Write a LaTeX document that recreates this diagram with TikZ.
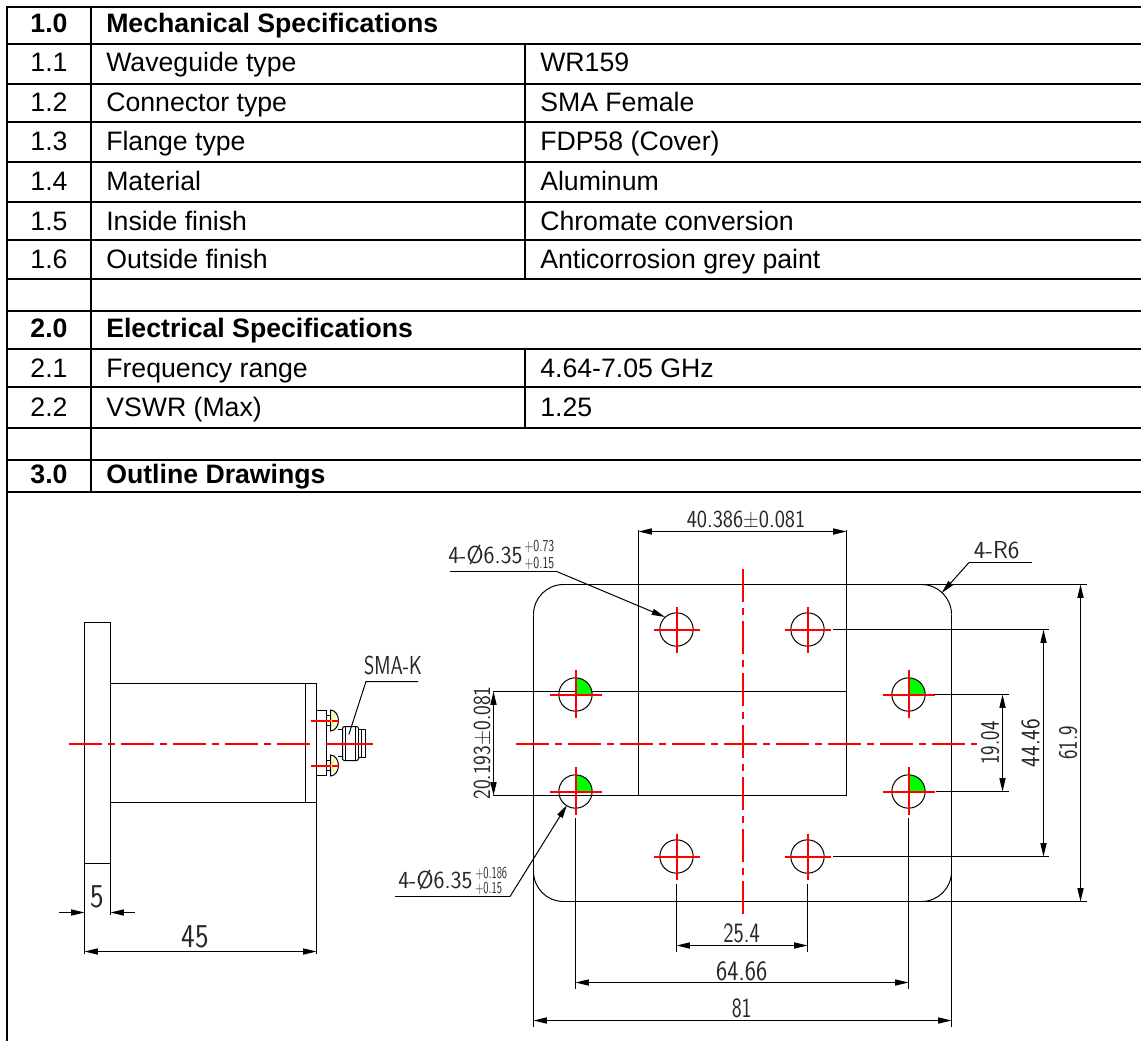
\documentclass[tikz,border=0pt]{standalone}
\usepackage{fontspec}
\usepackage{graphicx}
\setmainfont{Liberation Sans}
\usetikzlibrary{arrows.meta}
\newcommand{\cadt}[3]{\scalebox{#2}[1]{\fontsize{#1}{#1}\selectfont\sffamily #3}}
\definecolor{cadred}{RGB}{255,0,0}
\tikzset{
  x=0.75pt,y=-0.75pt,
  rule/.style={line width=1.5pt,black},
  cell/.style={anchor=base west,inner sep=0pt,font=\fontsize{20}{20}\selectfont},
  cellc/.style={anchor=base,inner sep=0pt,font=\fontsize{20}{20}\selectfont},
  head/.style={anchor=base west,inner sep=0pt,font=\fontsize{20}{20}\selectfont\bfseries},
  headc/.style={anchor=base,inner sep=0pt,font=\fontsize{20}{20}\selectfont\bfseries},
  ink/.style={line width=0.75pt,black},
  red line/.style={line width=1.5pt,cadred},
  center line/.style={line width=1.5pt,cadred,dash pattern=on 25pt off 4.5pt on 5pt off 4.5pt},
  dimen/.style={line width=0.75pt,black,{Triangle[length=10pt,width=4.6pt]}-{Triangle[length=10pt,width=4.6pt]}},
  lead/.style={line width=0.75pt,black,-{Triangle[length=10pt,width=4.6pt]}},
  cad/.style={inner sep=0pt,text=black!85},
  hole/.style={line width=0.75pt,black},
}
\begin{document}
\begin{tikzpicture}
\useasboundingbox (0,0) rectangle (1141,1041);
% table rules
\foreach \yy in {7,44,84,122,162,202,240,279,311,349,387,428,460,492}
  \draw[rule] (6.7,\yy) -- (1141,\yy);
\draw[rule] (6.7,6) -- (6.7,1041);
\draw[rule] (91,6) -- (91,492);
\draw[rule] (525,44) -- (525,279);
\draw[rule] (525,349) -- (525,428);
% table text
\node[headc] (n10) at (49,33) {1.0};
\node[head] (t10) at (106,33) {Mechanical Specifications};
\node[cellc] (n11) at (49,72) {1.1};
\node[cell] (t11) at (106,72) {Waveguide type};
\node[cell] (v11) at (540,72) {WR159};
\node[cellc] (n12) at (49,112) {1.2};
\node[cell] (t12) at (106,112) {Connector type};
\node[cell] (v12) at (540,112) {SMA Female};
\node[cellc] (n13) at (49,151) {1.3};
\node[cell] (t13) at (106,151) {Flange type};
\node[cell] (v13) at (540,151) {FDP58 (Cover)};
\node[cellc] (n14) at (49,191) {1.4};
\node[cell] (t14) at (106,191) {Material};
\node[cell] (v14) at (540,191) {Aluminum};
\node[cellc] (n15) at (49,230) {1.5};
\node[cell] (t15) at (106,230) {Inside finish};
\node[cell] (v15) at (540,230) {Chromate conversion};
\node[cellc] (n16) at (49,268) {1.6};
\node[cell] (t16) at (106,268) {Outside finish};
\node[cell] (v16) at (540,268) {Anticorrosion grey paint};
\node[headc] (n20) at (49,337) {2.0};
\node[head] (t20) at (106,337) {Electrical Specifications};
\node[cellc] (n21) at (49,377) {2.1};
\node[cell] (t21) at (106,377) {Frequency range};
\node[cell] (v21) at (540,377) {4.64-7.05 GHz};
\node[cellc] (n22) at (49,416) {2.2};
\node[cell] (t22) at (106,416) {VSWR (Max)};
\node[cell] (v22) at (540,416) {1.25};
\node[headc] (n30) at (49,483) {3.0};
\node[head] (t30) at (106,483) {Outline Drawings};
% side view
\draw[ink] (84.5,954) -- (84.5,622.5) -- (110.5,622.5) -- (110.5,915);
\draw[ink] (84.5,863.5) -- (110.5,863.5);
\draw[ink] (110.5,683.5) -- (316.5,683.5) -- (316.5,954);
\draw[ink] (110.5,802.5) -- (316.5,802.5);
\draw[ink] (305.5,683.5) -- (305.5,802.5);
\draw[center line] (69,743.5) -- (373,743.5);
% connector
\draw[ink,fill=white] (316.5,710.5) rectangle (326.5,775.5);
\foreach \yy in {720.5,765.5} {
  \draw[ink,fill=white] (326.5,\yy-5) rectangle (330.5,\yy+5);
  \draw[ink,fill=white] (330.5,\yy-10.5) .. controls (336,\yy-10.5) and (338.5,\yy-4) .. (338.5,\yy) .. controls (338.5,\yy+4) and (336,\yy+10.5) .. (330.5,\yy+10.5) -- cycle;
  \draw[red line] (310.5,\yy) -- (338.5,\yy);
  \draw[line width=0.75pt,yellow] (335,\yy-7) -- (331,\yy) -- (335,\yy+7);
}
\draw[ink] (338,729.5) -- (342,729.5) (338,756.5) -- (342,756.5);
\draw[ink,fill=white,rounded corners=1.5pt] (342.5,726.5) rectangle (358.5,760.5);
\draw[ink] (345.5,726.5) -- (345.5,760.5) (355.5,726.5) -- (355.5,760.5);
\draw[ink,fill=white] (358.5,729.5) rectangle (365.5,757.5);
\draw[ink] (361.5,729.5) -- (361.5,757.5);
\draw[center line,dash pattern=on 9pt off 3pt on 40pt] (326,743.5) -- (373,743.5);
\fill[magenta] (349,734) circle (0.7);
\draw[ink] (349,734) -- (366,681.5) -- (418,681.5);
\node[cad] (smak) at (393,665) {\cadt{19.5}{.76}{SMA-K}};
% side dims
\draw[dimen] (84.5,951.5) -- (316.5,951.5);
\node[cad] (d45) at (195,937) {\cadt{25}{.87}{45}};
\draw[lead] (59,912.5) -- (84.5,912.5);
\draw[lead] (135,912.5) -- (110.5,912.5);
\node[cad] (d5) at (97,897) {\cadt{25}{.87}{5}};
% plate outline
\draw[ink] (563,584.5) -- (1087,584.5);
\draw[ink] (563,901.5) -- (1087,901.5);
\draw[ink] (533.5,614.5) -- (533.5,1026.5);
\draw[ink] (951.5,614.5) -- (951.5,1026.5);
\draw[ink] (533.5,614.5) .. controls (533.5,597.9) and (546.9,584.5) .. (563.5,584.5);
\draw[ink] (921.5,584.5) .. controls (938.1,584.5) and (951.5,597.9) .. (951.5,614.5);
\draw[ink] (533.5,871.5) .. controls (533.5,888.1) and (546.9,901.5) .. (563.5,901.5);
\draw[ink] (921.5,901.5) .. controls (938.1,901.5) and (951.5,888.1) .. (951.5,871.5);
% waveguide opening
\draw[ink] (638.5,530) -- (638.5,795.5);
\draw[ink] (846.5,530) -- (846.5,795.5);
\draw[ink] (493,691.5) -- (846.5,691.5);
\draw[ink] (493,795.5) -- (846.5,795.5);
% centre lines
\draw[center line] (516,743.5) -- (977,743.5);
\draw[center line] (742.5,569) -- (742.5,917);
% green quadrants
\foreach \cx/\cy in {575.5/694.5,908.5/694.5,575.5/791.5,908.5/791.5}
  \fill[green] (\cx,\cy) -- (\cx+16.7,\cy) arc[start angle=0,end angle=90,radius=12.5pt] -- cycle;
% holes
\foreach \cx/\cy in {575.5/694.5,908.5/694.5,575.5/791.5,908.5/791.5} {
  \draw[hole] (\cx,\cy) circle[radius=12.5pt];
  \draw[red line] (\cx-26,\cy) -- (\cx+26,\cy);
  \draw[red line] (\cx,\cy-25) -- (\cx,\cy+23);
}
\foreach \cx/\cy in {676.5/629.5,807.5/629.5,676.5/856.5,807.5/856.5} {
  \draw[hole] (\cx,\cy) circle[radius=12.5pt];
  \draw[red line] (\cx-23,\cy) -- (\cx+23,\cy);
  \draw[red line] (\cx,\cy-23) -- (\cx,\cy+23);
}
% plate dims
\draw[dimen] (638.5,531.5) -- (846.5,531.5);
\node[cad] (d40) at (746,519) {\cadt{18.4}{.88}{40.386±0.081}};
\draw[dimen] (493.5,691.5) -- (493.5,795.5);
\node[cad,rotate=90] (d20) at (482,743) {\cadt{18.4}{.84}{20.193±0.081}};
\draw[ink] (934,694.5) -- (1008.5,694.5);
\draw[ink] (936,791.5) -- (1008.5,791.5);
\draw[dimen] (1002.5,694.5) -- (1002.5,791.5);
\node[cad,rotate=90] (d19) at (990,743) {\cadt{20}{.75}{19.04}};
\draw[ink] (833,629.5) -- (1049,629.5);
\draw[ink] (833,856.5) -- (1049,856.5);
\draw[dimen] (1043.5,629.5) -- (1043.5,856.5);
\node[cad,rotate=90] (d44) at (1030.7,743) {\cadt{20}{.85}{44.46}};
\draw[dimen] (1080.5,584.5) -- (1080.5,901.5);
\node[cad,rotate=90] (d61) at (1068,743) {\cadt{20}{.75}{61.9}};
\draw[ink] (676.5,884) -- (676.5,951.5);
\draw[ink] (807.5,884) -- (807.5,951.5);
\draw[dimen] (676.5,945.5) -- (807.5,945.5);
\node[cad] (d25) at (741.7,933) {\cadt{21}{.78}{25.4}};
\draw[ink] (575.5,818) -- (575.5,989);
\draw[ink] (908.5,818) -- (908.5,989);
\draw[dimen] (575.5,982.5) -- (908.5,982.5);
\node[cad] (d64) at (741.7,971) {\cadt{21}{.85}{64.66}};
\draw[dimen] (533.5,1020.5) -- (951.5,1020.5);
\node[cad] (d81) at (741.7,1008) {\cadt{21}{.75}{81}};
% leaders
\draw[ink] (1031.5,562.5) -- (969,562.5);
\draw[lead] (969,562.5) -- (941.7,593);
\node[cad] (r6) at (996.7,550) {\cadt{18.4}{1}{4-R6}};
\draw[ink] (450,571.5) -- (556.7,571.5);
\draw[lead] (556.7,571.5) -- (665,617);
\node[cad,anchor=west] (h1) at (448,555) {\cadt{18.4}{.95}{4-Ø6.35}};
\node[cad,anchor=west] (h1a) at (524,547) {\cadt{12.5}{.72}{+0.73}};
\node[cad,anchor=west] (h1b) at (524,564) {\cadt{12.5}{.72}{+0.15}};
\draw[ink] (395,896.5) -- (510,896.5);
\draw[lead] (510,896.5) -- (567,805);
\node[cad,anchor=west] (h2) at (398,880) {\cadt{18.4}{.95}{4-Ø6.35}};
\node[cad,anchor=west] (h2a) at (475,873) {\cadt{12.5}{.64}{+0.186}};
\node[cad,anchor=west] (h2b) at (475,888) {\cadt{12.5}{.64}{+0.15}};
\end{tikzpicture}
\end{document}
